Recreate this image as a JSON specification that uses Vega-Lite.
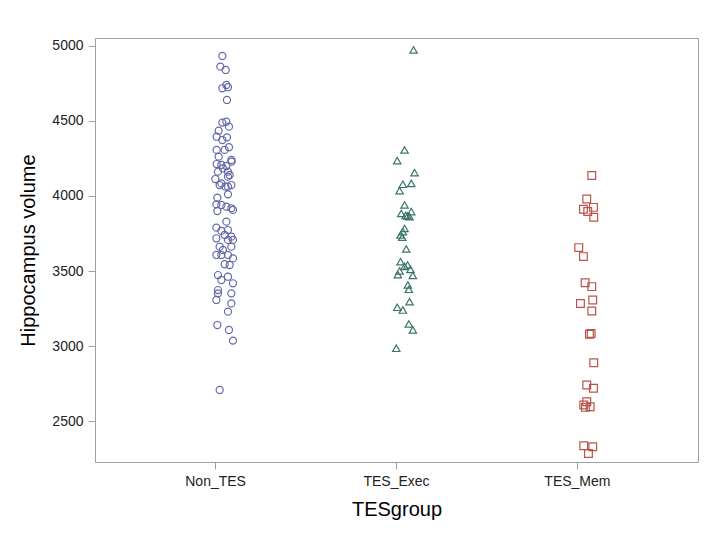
{
  "$schema": "https://vega.github.io/schema/vega-lite/v6.json",
  "width": 603,
  "height": 424,
  "autosize": {"type": "none"},
  "padding": {"left": 95, "top": 38, "right": 16, "bottom": 73},
  "background": "white",
  "config": {
    "view": {"stroke": "#a0a0a0", "strokeWidth": 1},
    "font": "Liberation Sans",
    "axis": {"grid": false, "domain": false, "tickColor": "#a0a0a0", "tickSize": 7, "labelFontSize": 14, "labelColor": "#222222", "titleFontSize": 20, "titleFontWeight": "normal", "titleColor": "#000000", "labelFont": "Liberation Sans", "titleFont": "Liberation Sans"}
  },
  "datasets": {
    "points": [
      {"TESgroup": "Non_TES", "volume": 4933, "jitter": 6.7},
      {"TESgroup": "Non_TES", "volume": 4862, "jitter": 4.7},
      {"TESgroup": "Non_TES", "volume": 4840, "jitter": 10},
      {"TESgroup": "Non_TES", "volume": 4740, "jitter": 10.7},
      {"TESgroup": "Non_TES", "volume": 4725, "jitter": 12.3},
      {"TESgroup": "Non_TES", "volume": 4718, "jitter": 6.7},
      {"TESgroup": "Non_TES", "volume": 4640, "jitter": 11.3},
      {"TESgroup": "Non_TES", "volume": 4495, "jitter": 10.7},
      {"TESgroup": "Non_TES", "volume": 4489, "jitter": 6.7},
      {"TESgroup": "Non_TES", "volume": 4462, "jitter": 13.3},
      {"TESgroup": "Non_TES", "volume": 4435, "jitter": 3},
      {"TESgroup": "Non_TES", "volume": 4395, "jitter": 1},
      {"TESgroup": "Non_TES", "volume": 4391, "jitter": 11.3},
      {"TESgroup": "Non_TES", "volume": 4373, "jitter": 6.7},
      {"TESgroup": "Non_TES", "volume": 4325, "jitter": 13.3},
      {"TESgroup": "Non_TES", "volume": 4307, "jitter": 1},
      {"TESgroup": "Non_TES", "volume": 4307, "jitter": 9},
      {"TESgroup": "Non_TES", "volume": 4262, "jitter": 3},
      {"TESgroup": "Non_TES", "volume": 4240, "jitter": 15.7},
      {"TESgroup": "Non_TES", "volume": 4229, "jitter": 16},
      {"TESgroup": "Non_TES", "volume": 4213, "jitter": 1},
      {"TESgroup": "Non_TES", "volume": 4207, "jitter": 5.7},
      {"TESgroup": "Non_TES", "volume": 4200, "jitter": 10.7},
      {"TESgroup": "Non_TES", "volume": 4184, "jitter": 7.3},
      {"TESgroup": "Non_TES", "volume": 4162, "jitter": 2.3},
      {"TESgroup": "Non_TES", "volume": 4162, "jitter": 12.3},
      {"TESgroup": "Non_TES", "volume": 4140, "jitter": 14},
      {"TESgroup": "Non_TES", "volume": 4129, "jitter": 12.3},
      {"TESgroup": "Non_TES", "volume": 4113, "jitter": -0.3},
      {"TESgroup": "Non_TES", "volume": 4084, "jitter": 5.7},
      {"TESgroup": "Non_TES", "volume": 4073, "jitter": 15.7},
      {"TESgroup": "Non_TES", "volume": 4073, "jitter": 4},
      {"TESgroup": "Non_TES", "volume": 4062, "jitter": 9.7},
      {"TESgroup": "Non_TES", "volume": 4062, "jitter": 12.3},
      {"TESgroup": "Non_TES", "volume": 4011, "jitter": 12.3},
      {"TESgroup": "Non_TES", "volume": 3989, "jitter": 1.7},
      {"TESgroup": "Non_TES", "volume": 3944, "jitter": 0.7},
      {"TESgroup": "Non_TES", "volume": 3940, "jitter": 5.7},
      {"TESgroup": "Non_TES", "volume": 3929, "jitter": 10.7},
      {"TESgroup": "Non_TES", "volume": 3918, "jitter": 15.7},
      {"TESgroup": "Non_TES", "volume": 3907, "jitter": 17.3},
      {"TESgroup": "Non_TES", "volume": 3900, "jitter": 1.7},
      {"TESgroup": "Non_TES", "volume": 3829, "jitter": 10.7},
      {"TESgroup": "Non_TES", "volume": 3789, "jitter": 0.7},
      {"TESgroup": "Non_TES", "volume": 3773, "jitter": 12.3},
      {"TESgroup": "Non_TES", "volume": 3767, "jitter": 5.7},
      {"TESgroup": "Non_TES", "volume": 3740, "jitter": 9},
      {"TESgroup": "Non_TES", "volume": 3729, "jitter": 15.7},
      {"TESgroup": "Non_TES", "volume": 3718, "jitter": 0.7},
      {"TESgroup": "Non_TES", "volume": 3707, "jitter": 12.3},
      {"TESgroup": "Non_TES", "volume": 3707, "jitter": 17.3},
      {"TESgroup": "Non_TES", "volume": 3662, "jitter": 4},
      {"TESgroup": "Non_TES", "volume": 3662, "jitter": 15.7},
      {"TESgroup": "Non_TES", "volume": 3640, "jitter": 7.3},
      {"TESgroup": "Non_TES", "volume": 3607, "jitter": 0.7},
      {"TESgroup": "Non_TES", "volume": 3607, "jitter": 5.7},
      {"TESgroup": "Non_TES", "volume": 3607, "jitter": 12.3},
      {"TESgroup": "Non_TES", "volume": 3584, "jitter": 17.3},
      {"TESgroup": "Non_TES", "volume": 3545, "jitter": 9},
      {"TESgroup": "Non_TES", "volume": 3540, "jitter": 14},
      {"TESgroup": "Non_TES", "volume": 3473, "jitter": 2.3},
      {"TESgroup": "Non_TES", "volume": 3462, "jitter": 12.3},
      {"TESgroup": "Non_TES", "volume": 3440, "jitter": 5.7},
      {"TESgroup": "Non_TES", "volume": 3418, "jitter": 17.3},
      {"TESgroup": "Non_TES", "volume": 3373, "jitter": 2.3},
      {"TESgroup": "Non_TES", "volume": 3351, "jitter": 2.3},
      {"TESgroup": "Non_TES", "volume": 3351, "jitter": 15.7},
      {"TESgroup": "Non_TES", "volume": 3307, "jitter": 0.7},
      {"TESgroup": "Non_TES", "volume": 3284, "jitter": 15.7},
      {"TESgroup": "Non_TES", "volume": 3229, "jitter": 12.3},
      {"TESgroup": "Non_TES", "volume": 3140, "jitter": 1.7},
      {"TESgroup": "Non_TES", "volume": 3107, "jitter": 13.3},
      {"TESgroup": "Non_TES", "volume": 3036, "jitter": 17.3},
      {"TESgroup": "Non_TES", "volume": 2707, "jitter": 4},
      {"TESgroup": "TES_Exec", "volume": 4973, "jitter": 17},
      {"TESgroup": "TES_Exec", "volume": 4307, "jitter": 8},
      {"TESgroup": "TES_Exec", "volume": 4236, "jitter": 0.7},
      {"TESgroup": "TES_Exec", "volume": 4156, "jitter": 18},
      {"TESgroup": "TES_Exec", "volume": 4084, "jitter": 14.7},
      {"TESgroup": "TES_Exec", "volume": 4078, "jitter": 6.3},
      {"TESgroup": "TES_Exec", "volume": 4036, "jitter": 3},
      {"TESgroup": "TES_Exec", "volume": 3940, "jitter": 8},
      {"TESgroup": "TES_Exec", "volume": 3896, "jitter": 14.7},
      {"TESgroup": "TES_Exec", "volume": 3884, "jitter": 4.7},
      {"TESgroup": "TES_Exec", "volume": 3870, "jitter": 9},
      {"TESgroup": "TES_Exec", "volume": 3867, "jitter": 11},
      {"TESgroup": "TES_Exec", "volume": 3862, "jitter": 13},
      {"TESgroup": "TES_Exec", "volume": 3784, "jitter": 8},
      {"TESgroup": "TES_Exec", "volume": 3762, "jitter": 6.3},
      {"TESgroup": "TES_Exec", "volume": 3740, "jitter": 4},
      {"TESgroup": "TES_Exec", "volume": 3725, "jitter": 5.7},
      {"TESgroup": "TES_Exec", "volume": 3647, "jitter": 9.7},
      {"TESgroup": "TES_Exec", "volume": 3562, "jitter": 4},
      {"TESgroup": "TES_Exec", "volume": 3540, "jitter": 11},
      {"TESgroup": "TES_Exec", "volume": 3530, "jitter": 8},
      {"TESgroup": "TES_Exec", "volume": 3510, "jitter": 14},
      {"TESgroup": "TES_Exec", "volume": 3500, "jitter": 3},
      {"TESgroup": "TES_Exec", "volume": 3475, "jitter": 1.3},
      {"TESgroup": "TES_Exec", "volume": 3470, "jitter": 16.3},
      {"TESgroup": "TES_Exec", "volume": 3407, "jitter": 11.3},
      {"TESgroup": "TES_Exec", "volume": 3378, "jitter": 12.3},
      {"TESgroup": "TES_Exec", "volume": 3295, "jitter": 13},
      {"TESgroup": "TES_Exec", "volume": 3258, "jitter": 0.7},
      {"TESgroup": "TES_Exec", "volume": 3240, "jitter": 6.3},
      {"TESgroup": "TES_Exec", "volume": 3147, "jitter": 12.3},
      {"TESgroup": "TES_Exec", "volume": 3107, "jitter": 16.3},
      {"TESgroup": "TES_Exec", "volume": 2985, "jitter": -0.3},
      {"TESgroup": "TES_Mem", "volume": 4136, "jitter": 14.3},
      {"TESgroup": "TES_Mem", "volume": 3980, "jitter": 9.3},
      {"TESgroup": "TES_Mem", "volume": 3924, "jitter": 16},
      {"TESgroup": "TES_Mem", "volume": 3911, "jitter": 6},
      {"TESgroup": "TES_Mem", "volume": 3896, "jitter": 10.3},
      {"TESgroup": "TES_Mem", "volume": 3858, "jitter": 16.3},
      {"TESgroup": "TES_Mem", "volume": 3656, "jitter": 1.3},
      {"TESgroup": "TES_Mem", "volume": 3596, "jitter": 6},
      {"TESgroup": "TES_Mem", "volume": 3422, "jitter": 7.7},
      {"TESgroup": "TES_Mem", "volume": 3396, "jitter": 14.3},
      {"TESgroup": "TES_Mem", "volume": 3307, "jitter": 15.3},
      {"TESgroup": "TES_Mem", "volume": 3284, "jitter": 3},
      {"TESgroup": "TES_Mem", "volume": 3233, "jitter": 14.3},
      {"TESgroup": "TES_Mem", "volume": 3084, "jitter": 13.7},
      {"TESgroup": "TES_Mem", "volume": 3078, "jitter": 12},
      {"TESgroup": "TES_Mem", "volume": 2889, "jitter": 16.3},
      {"TESgroup": "TES_Mem", "volume": 2740, "jitter": 9.3},
      {"TESgroup": "TES_Mem", "volume": 2718, "jitter": 16},
      {"TESgroup": "TES_Mem", "volume": 2629, "jitter": 9.3},
      {"TESgroup": "TES_Mem", "volume": 2607, "jitter": 6.3},
      {"TESgroup": "TES_Mem", "volume": 2595, "jitter": 12.7},
      {"TESgroup": "TES_Mem", "volume": 2591, "jitter": 8},
      {"TESgroup": "TES_Mem", "volume": 2335, "jitter": 6.3},
      {"TESgroup": "TES_Mem", "volume": 2329, "jitter": 15.3},
      {"TESgroup": "TES_Mem", "volume": 2284, "jitter": 11}
    ]
  },
  "data": {"name": "points"},
  "mark": {"type": "point", "filled": false, "strokeWidth": 1.2, "opacity": 1},
  "encoding": {
    "x": {
      "field": "TESgroup", "type": "nominal",
      "scale": {"type": "band", "domain": ["Non_TES", "TES_Exec", "TES_Mem"], "paddingInner": 0, "paddingOuter": 0.1667},
      "axis": {"title": "TESgroup", "labelAngle": 0, "labelPadding": 5, "titlePadding": 11}
    },
    "xOffset": {
      "field": "jitter", "type": "quantitative",
      "scale": {"domain": [0, 20], "range": [90.5, 110.5]}
    },
    "y": {
      "field": "volume", "type": "quantitative",
      "scale": {"domain": [2227, 5053], "nice": false, "zero": false},
      "axis": {"title": "Hippocampus volume", "format": "d", "values": [2500, 3000, 3500, 4000, 4500, 5000], "labelPadding": 5, "titlePadding": 13}
    },
    "shape": {
      "field": "TESgroup", "type": "nominal",
      "scale": {"domain": ["Non_TES", "TES_Exec", "TES_Mem"], "range": ["circle", "triangle-up", "square"]},
      "legend": null
    },
    "color": {
      "field": "TESgroup", "type": "nominal",
      "scale": {"domain": ["Non_TES", "TES_Exec", "TES_Mem"], "range": ["#6569a6", "#3b7569", "#b9544b"]},
      "legend": null
    },
    "size": {
      "field": "TESgroup", "type": "nominal",
      "scale": {"domain": ["Non_TES", "TES_Exec", "TES_Mem"], "range": [50, 60, 60]},
      "legend": null
    }
  }
}
